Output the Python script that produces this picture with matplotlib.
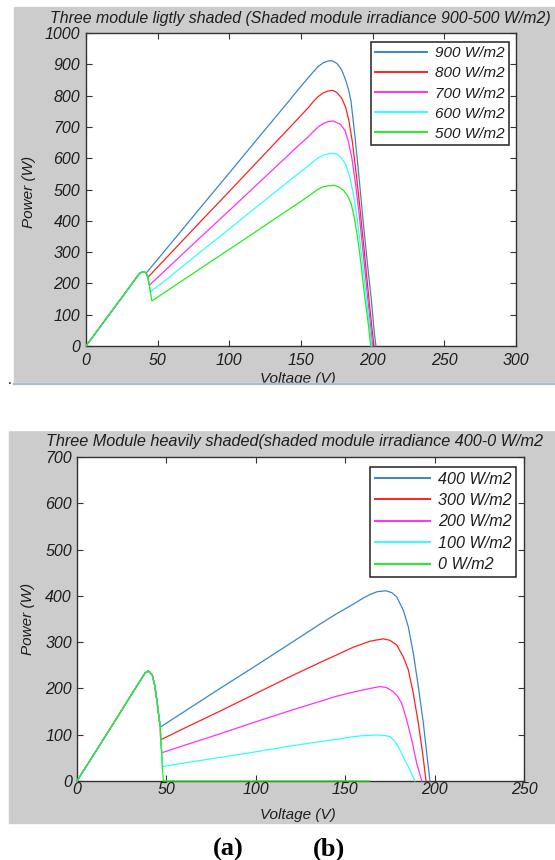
import matplotlib
matplotlib.use("Agg")
import matplotlib.pyplot as plt
from matplotlib.patches import Rectangle
from matplotlib.lines import Line2D

plt.rcParams['font.family'] = ['Liberation Sans', 'DejaVu Sans']
plt.rcParams['font.style'] = 'italic'

W, H = 555, 860
TXT = '#1e1e1e'
BG = '#cccccc'

# ---- (a) lightly shaded: voltage / power ----
a_labels = ['900 W/m2', '800 W/m2', '700 W/m2', '600 W/m2', '500 W/m2']
a_v900 = [0, 10, 20, 30, 36, 38, 40, 41.4, 42, 60, 80, 100, 120, 140, 149.3, 155, 158.6, 162,
          165.6, 168.5, 171.4, 175, 178.4, 181, 183, 184.9, 187.4, 189.8, 192, 194.2, 196.6, 199.1, 201.2, 202.3]
a_p900 = [0, 62, 124, 186, 224, 234, 237, 235, 233, 332, 443, 553, 664, 774, 826, 857, 876, 893,
          905, 910, 912, 903, 882, 852, 822, 782, 680, 572, 465, 359, 252, 146, 39, 0]
a_v800 = [0, 10, 20, 30, 36, 38, 40, 41.4, 42.5, 43.3, 60, 80, 100, 120, 140, 149.3, 155, 158.6, 162,
          165.6, 168.5, 171.9, 175, 178.4, 181.2, 183.4, 185.9, 188.3, 190.9, 194.2, 197.4, 199.9, 200.9]
a_p800 = [0, 62, 124, 186, 224, 234, 237, 235, 228, 220, 301, 398, 494, 591, 688, 733, 761, 781, 797,
          809, 814, 817, 810, 792, 762, 720, 650, 560, 450, 300, 150, 40, 0]
a_v700 = [0, 10, 20, 30, 36, 38, 40, 41.4, 42.5, 43.3, 44.2, 60, 80, 100, 120, 140, 149.3, 155, 158.6,
          162, 165.6, 169, 172.5, 177.5, 180.5, 183, 185.5, 188, 190.6, 193.3, 196.6, 199.1, 200.0]
a_p700 = [0, 62, 124, 186, 224, 234, 237, 235, 228, 215, 194, 262, 348, 433, 519, 605, 645, 668, 685,
          700, 711, 717, 719, 708, 690, 655, 600, 520, 420, 300, 150, 40, 0]
a_v600 = [0, 10, 20, 30, 36, 38, 40, 41.4, 42.5, 43.3, 44.2, 44.9, 60, 80, 100, 120, 140, 149.3, 155,
          158.6, 162, 165.6, 169, 172.5, 175.5, 178, 181.2, 184, 186.8, 189.4, 192, 195.7, 198.4, 199.3]
a_p600 = [0, 62, 124, 186, 224, 234, 237, 235, 228, 215, 196, 172, 227, 301, 374, 448, 521, 555, 575,
          589, 601, 610, 614, 615, 612, 602, 580, 540, 480, 400, 300, 150, 40, 0]
a_v500 = [0, 10, 20, 30, 36, 38, 40, 41.4, 42.5, 43.3, 44.2, 44.9, 46, 60, 80, 100, 120, 140, 149.3,
          155, 158.6, 162, 165.6, 169, 173.2, 176.5, 179.5, 182.5, 185, 187, 189, 191, 194.2, 197.2, 198.6]
a_p500 = [0, 62, 124, 186, 224, 234, 237, 235, 228, 215, 196, 173, 144, 187, 248, 309, 370, 432, 460,
          478, 490, 501, 509, 512, 513, 508, 498, 480, 455, 415, 360, 295, 167, 61, 0]

# ---- (b) heavily shaded ----
b_labels = ['400 W/m2', '300 W/m2', '200 W/m2', '100 W/m2', '0 W/m2']
b_v400 = [0, 10, 20, 30, 38, 39.9, 42.1, 43.6, 44.9, 46.0, 46.8, 60, 80, 100, 120, 135.9, 145, 154.5,
          160, 163.9, 168, 172.6, 176, 178.8, 182.5, 185.3, 188.1, 190.9, 193.7, 195.6, 197.4]
b_p400 = [0, 61, 122, 184, 233, 238, 229, 204, 168, 132, 117, 150, 200, 249, 299, 339, 361, 382,
          395, 403, 409, 411, 407, 398, 369, 333, 276, 204, 125, 60, 0]
b_v300 = [0, 10, 20, 30, 38, 39.9, 42.1, 43.6, 44.9, 46.0, 46.6, 46.8, 60, 80, 100, 120, 135.9, 145,
          154.5, 163.9, 168, 171.3, 175, 178.8, 182.5, 185.3, 188.1, 190.9, 193.3, 195.2]
b_p300 = [0, 61, 122, 184, 233, 238, 229, 204, 168, 132, 117, 89, 114, 151, 189, 227, 256, 272,
          289, 302, 305, 307, 304, 294, 268, 240, 189, 125, 60, 0]
b_v200 = [0, 10, 20, 30, 38, 39.9, 42.1, 43.6, 44.9, 46.0, 46.6, 46.8, 47.4, 60, 80, 100, 120, 135.9,
          145, 154.5, 163.9, 169.5, 173, 176.9, 179.5, 181.6, 184.4, 187.2, 190, 192.8]
b_p200 = [0, 61, 122, 184, 233, 238, 229, 204, 168, 132, 117, 89, 61, 77, 102, 128, 153, 172,
          183, 192, 200, 204, 202, 193, 182, 168, 132, 89, 38, 0]
b_v100 = [0, 10, 20, 30, 38, 39.9, 42.1, 43.6, 44.9, 46.0, 46.6, 46.8, 47.4, 47.7, 60, 80, 100, 120,
          135.9, 145, 154.5, 160, 167.6, 172, 175.1, 177.5, 179.7, 181.5, 183.4, 186.2, 189]
b_p100 = [0, 61, 122, 184, 233, 238, 229, 204, 168, 132, 117, 89, 61, 31, 39, 51, 63, 76,
          85, 90, 95.7, 98, 99.4, 98.5, 95.7, 87, 74, 60, 45, 24, 0]
b_v0 = [0, 10, 20, 30, 38, 39.9, 42.1, 43.6, 44.9, 46.0, 46.6, 46.8, 47.4, 47.7, 48.3, 100, 163.5]
b_p0 = [0, 61, 122, 184, 233, 238, 229, 204, 168, 132, 117, 89, 61, 31, 0, 0, 0]

colors = ['#3a86c8', '#ff2020', '#ff30ff', '#30ffff', '#20ee20']


def box(x0, y0, x1, y1):
    # pixel box (top-left origin) -> figure fraction rect
    return [x0 / W, 1 - y1 / H, (x1 - x0) / W, (y1 - y0) / H]


def style_axes(ax, xmax, ymax, xpad, ypad):
    ax.set_xlim(0, xmax)
    ax.set_ylim(0, ymax)
    ax.set_xticks(range(0, xmax + 1, 50))
    ax.set_yticks(range(0, ymax + 1, 100))
    ax.tick_params(direction='in', top=True, right=True, length=4, width=0.8,
                   color='#333333', labelsize=11.5, labelcolor=TXT)
    ax.tick_params(axis='x', pad=xpad)
    ax.tick_params(axis='y', pad=ypad)
    for s in ax.spines.values():
        s.set_color('#333333')
        s.set_linewidth(1.0)


def add_legend(ax, right, top, size):
    leg = ax.legend(loc='upper right', bbox_to_anchor=(right / W, 1 - top / H),
                    bbox_transform=fig.transFigure, borderaxespad=0, fontsize=size,
                    fancybox=False, framealpha=1, edgecolor='#222222',
                    handlelength=3.4, handletextpad=0.5, labelspacing=0.4, borderpad=0.3,
                    labelcolor=TXT)
    leg.get_frame().set_linewidth(1.1)
    for ln in leg.get_lines():
        ln.set_linewidth(1.4)


fig = plt.figure(figsize=(W / 100, H / 100), dpi=100)

# grey MATLAB figure backgrounds
fig.add_artist(Rectangle((14 / W, 1 - 382 / H), (W - 14) / W, 375 / H,
                         transform=fig.transFigure, color=BG, zorder=-1))
fig.add_artist(Rectangle((9 / W, 1 - 823 / H), (W - 9) / W, 393 / H,
                         transform=fig.transFigure, color=BG, zorder=-1))

# (a)
ax1 = fig.add_axes(box(86, 33, 516, 346))
a_data = [(a_v900, a_p900), (a_v800, a_p800), (a_v700, a_p700), (a_v600, a_p600), (a_v500, a_p500)]
for (v, p), c, lab in zip(a_data, colors, a_labels):
    ax1.plot(v, p, color=c, lw=0.9, label=lab, zorder=3, clip_on=False)
style_axes(ax1, 300, 1000, 5, 4.3)
ax1.set_xlabel('Voltage (V)', fontsize=11, color=TXT)
ax1.xaxis.set_label_coords((298 - 86) / 430, -0.082)
ax1.set_ylabel('Power (W)', fontsize=11, color=TXT)
ax1.yaxis.set_label_coords(-0.116, 0.492)
add_legend(ax1, 509, 41.7, 11)
fig.text(300 / W, 1 - 18 / H, 'Three module ligtly shaded (Shaded module irradiance 900-500 W/m2)',
         ha='center', va='center', fontsize=11.4, color=TXT)

# window edge that cuts the first panel
fig.add_artist(Rectangle((0, 1 - 430 / H), 1, (430 - 382.5) / H,
                         transform=fig.transFigure, color='white', zorder=5))
fig.add_artist(Line2D([14 / W, 1], [1 - 384 / H, 1 - 384 / H], transform=fig.transFigure,
                      color='#a9bcd6', lw=1.6, zorder=6))
fig.text(10 / W, 1 - 384 / H, '.', ha='center', va='baseline', fontsize=10, color='black',
         fontstyle='normal', zorder=6)

# (b)
ax2 = fig.add_axes(box(77, 457, 524, 781))
b_data = [(b_v400, b_p400), (b_v300, b_p300), (b_v200, b_p200), (b_v100, b_p100), (b_v0, b_p0)]
for (v, p), c, lab in zip(b_data, colors, b_labels):
    ax2.plot(v, p, color=c, lw=0.9, label=lab, zorder=3, clip_on=False)
style_axes(ax2, 250, 700, 0.5, 3.6)
ax2.set_xlabel('Voltage (V)', fontsize=11, color=TXT)
ax2.xaxis.set_label_coords((297.5 - 77) / 447, -0.0833)
ax2.set_ylabel('Power (W)', fontsize=11, color=TXT)
ax2.yaxis.set_label_coords(-0.094, 0.5)
add_legend(ax2, 516.3, 466.7, 11.6)
# the closing bracket falls outside the window in the reference
fig.text(46 / W, 1 - 441.7 / H, 'Three Module heavily shaded(shaded module irradiance 400-0 W/m2',
         ha='left', va='center', fontsize=11.7, color=TXT)

# caption
for lab, x in [('(a)', 228), ('(b)', 329)]:
    fig.text(x / W, 1 - 849 / H, lab, ha='center', va='center', fontsize=19, fontweight='bold',
             fontstyle='normal', family=['Liberation Serif', 'DejaVu Serif'], color='black')

fig.savefig('out.png', dpi=100, facecolor='white')
